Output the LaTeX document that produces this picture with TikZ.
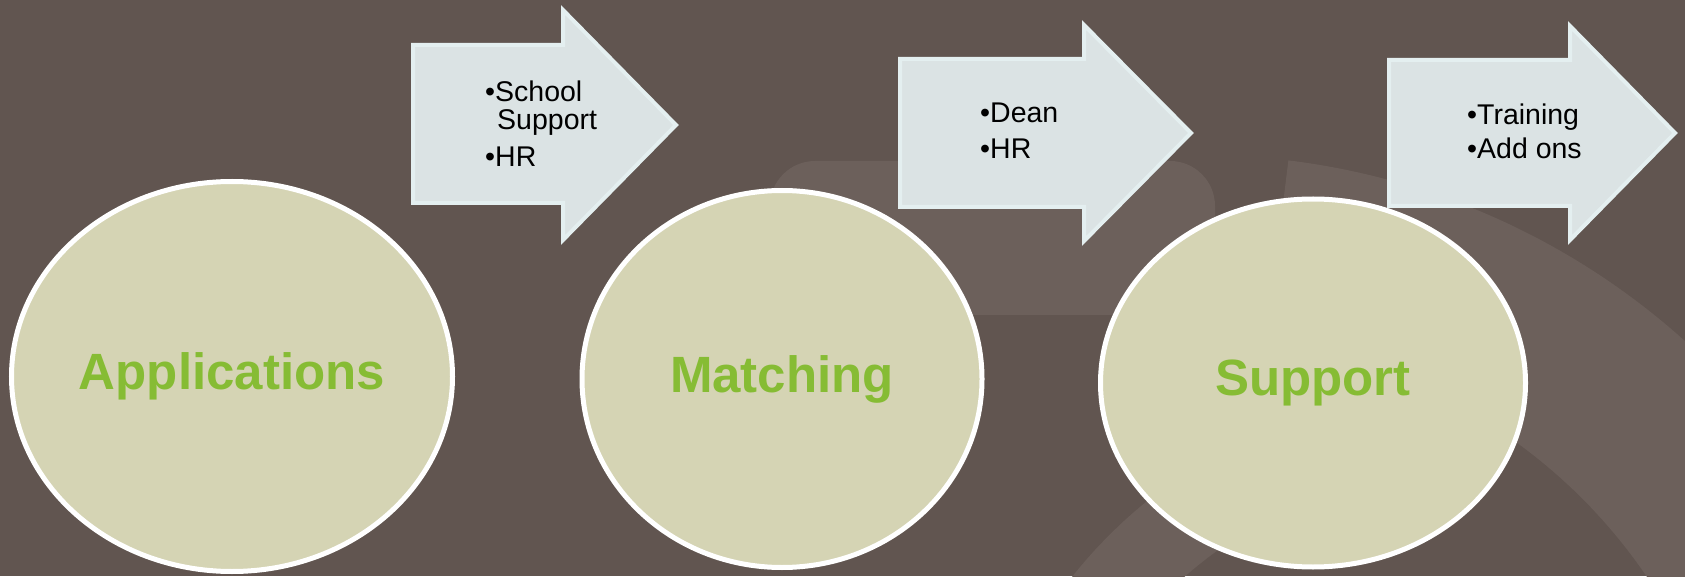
\documentclass[tikz,border=0pt]{standalone}
\usepackage{fontspec}
\setmainfont{Liberation Sans}
\definecolor{slidebg}{RGB}{97, 85, 80}
\definecolor{slideswirl}{RGB}{108, 96, 91}
\definecolor{stagefill}{RGB}{213, 212, 180}
\definecolor{stagegreen}{RGB}{134, 188, 52}
\definecolor{arrowfill}{RGB}{219, 227, 228}
\definecolor{arrowedge}{RGB}{228, 239, 240}
\usetikzlibrary{shapes.geometric}

\tikzset{
  stage/.style={ellipse, draw=white, line width=5pt, fill=stagefill, inner sep=0pt,
    text=stagegreen, font=\fontsize{51}{60}\selectfont\bfseries},
  bullettext/.style={anchor=base west, inner sep=0pt, font=\fontsize{28.5}{34}\selectfont},
  blockarrow/.style={fill=arrowfill, draw=arrowedge, line width=4pt, line join=miter}
}

\begin{document}
\begin{tikzpicture}[x=1pt, y=1pt]
  % Slide background
  \fill[slidebg] (0,0) rectangle (1685,576);
  \useasboundingbox (0,0) rectangle (1685,576);
  % Background swirls
  \fill[slideswirl, rounded corners=45pt] (770,261) rectangle (1215,415);
  \fill[slideswirl, shift={(1200,-304)}] (20:725) arc[start angle=20, end angle=83, radius=725]
    -- (83:540) arc[start angle=83, end angle=20, radius=540] -- cycle;
  \fill[slideswirl, shift={(1450,-300)}] (100:482) arc[start angle=100, end angle=145, radius=482]
    -- (145:400) arc[start angle=145, end angle=100, radius=400] -- cycle;
  % Block arrows
  \path[blockarrow] (413,373) -- (413,531) -- (563,531) -- (563,566) -- (676,451) -- (563,336) -- (563,373) -- cycle;
  \path[blockarrow] (900,369) -- (900,517) -- (1084,517) -- (1084,551) -- (1191,443) -- (1084,335) -- (1084,369) -- cycle;
  \path[blockarrow] (1389,370) -- (1389,516) -- (1570,516) -- (1570,550) -- (1675,443) -- (1570,336) -- (1570,370) -- cycle;
  % Arrow bullets
  \node[bullettext] (school) at (485,474) {•School};
  \node[bullettext] (schoolcont) at (497,446) {Support};
  \node[bullettext] (hrone) at (485,409) {•HR};
  \node[bullettext] (dean) at (980,453) {•Dean};
  \node[bullettext] (hrtwo) at (980,417) {•HR};
  \node[bullettext] (training) at (1467,451) {•Training};
  \node[bullettext] (addons) at (1467,417) {•Add ons};
  % Stages
  \node[stage, minimum width=441pt, minimum height=390pt] (applications) at (232,199.5) {Applications};
  \node[stage, minimum width=400pt, minimum height=377pt] (matching) at (782,197) {Matching};
  \node[stage, minimum width=425pt, minimum height=368pt] (support) at (1313,193) {Support};
\end{tikzpicture}
\end{document}
